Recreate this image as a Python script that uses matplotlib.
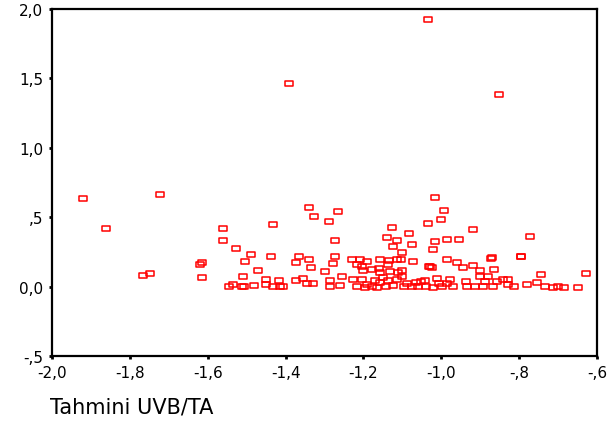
import numpy as np
import matplotlib
matplotlib.use("Agg")
import matplotlib.pyplot as plt
from matplotlib.path import Path

# predicted value (x) vs residual-ish value (y)
x_vals = [
    -1.390, -1.033, -0.852,
    -1.920, -1.723, -1.861, -1.766, -1.748, -1.620, -1.614, -1.615,
    -1.341, -1.265, -1.327, -1.289, -1.432, -1.562, -1.126,
    -1.015, -0.992, -1.002, -1.034, -0.919,
    -1.562, -1.527, -1.489, -1.503, -1.437, -1.470, -1.509, -1.546, -1.536, -1.513,
    -1.507, -1.480, -1.450, -1.450, -1.432, -1.418, -1.414, -1.406, -1.374, -1.365, -1.372,
    -1.274, -1.140, -1.123, -1.115, -1.339, -1.274, -1.279, -1.335, -1.298, -1.256,
    -1.230, -1.210, -1.192, -1.217, -1.204, -1.202, -1.179, -1.159, -1.157, -1.134,
    -1.113, -1.136, -1.132, -1.157, -1.354, -1.346, -1.330, -1.286, -1.286, -1.260,
    -1.226, -1.204, -1.217, -1.192, -1.179, -1.170, -1.157, -1.151, -1.136, -1.123,
    -1.115, -1.142, -1.110, -1.196, -1.166,
    -1.082, -1.074, -1.016, -0.986, -0.954, -1.021, -1.102, -1.072, -1.104, -0.986,
    -0.959, -1.031, -1.025, -0.943, -0.919, -0.900, -0.873, -0.870, -0.865, -1.102,
    -1.102, -0.901, -0.879, -1.012, -0.978, -1.042, -1.065, -1.089, -0.937, -0.888,
    -0.858, -1.096, -1.076, -1.059, -1.038, -1.021, -0.999, -0.986, -0.969, -0.934,
    -0.913, -0.892, -0.868, -1.005, -1.053, -1.028,
    -0.772, -0.796, -0.794, -0.842, -0.829, -0.829, -0.813, -0.781, -0.753, -0.743,
    -0.734, -0.714, -0.700, -0.685, -0.649, -0.628,
]
y_vals = [
    1.464, 1.925, 1.390,
    0.636, 0.670, 0.420, 0.080, 0.095, 0.165, 0.180, 0.070,
    0.574, 0.548, 0.507, 0.474, 0.450, 0.420, 0.426,
    0.645, 0.555, 0.490, 0.457, 0.414,
    0.336, 0.276, 0.236, 0.188, 0.217, 0.121, 0.079, 0.007, 0.021, 0.007,
    0.007, 0.014, 0.055, 0.021, 0.007, 0.045, 0.002, 0.007, 0.176, 0.217, 0.045,
    0.336, 0.360, 0.293, 0.336, 0.198, 0.217, 0.170, 0.138, 0.112, 0.079,
    0.198, 0.202, 0.181, 0.164, 0.145, 0.117, 0.129, 0.136, 0.198, 0.193,
    0.198, 0.164, 0.112, 0.102, 0.064, 0.026, 0.026, 0.045, 0.007, 0.014,
    0.055, 0.055, 0.002, 0.021, 0.002, 0.045, 0.033, 0.069, 0.045, 0.010,
    0.057, 0.002, 0.105, 0.000, 0.000,
    0.383, 0.307, 0.326, 0.343, 0.343, 0.269, 0.252, 0.188, 0.200, 0.202,
    0.179, 0.152, 0.141, 0.141, 0.159, 0.121, 0.207, 0.210, 0.129, 0.117,
    0.074, 0.074, 0.074, 0.064, 0.055, 0.045, 0.033, 0.026, 0.040, 0.040,
    0.040, 0.007, 0.007, 0.002, 0.007, 0.000, 0.002, 0.026, 0.007, 0.007,
    0.007, 0.002, 0.007, 0.026, 0.040, 0.148,
    0.367, 0.217, 0.220, 0.057, 0.057, 0.021, 0.007, 0.021, 0.031, 0.088,
    0.007, 0.000, 0.007, 0.000, 0.000, 0.095,
]

x_ticks = [-2.0, -1.8, -1.6, -1.4, -1.2, -1.0, -0.8, -0.6]
x_tick_labels = ["-2,0", "-1,8", "-1,6", "-1,4", "-1,2", "-1,0", "-,8", "-,6"]
y_ticks = [-0.5, 0.0, 0.5, 1.0, 1.5, 2.0]
y_tick_labels = ["-,5", "0,0", ",5", "1,0", "1,5", "2,0"]
x_title = "Tahmini UVB/TA"

plt.rcParams['font.family'] = ['DejaVu Sans']

# SPSS-style flat rectangle marker
rect = Path([(-1, -0.6), (1, -0.6), (1, 0.6), (-1, 0.6), (-1, -0.6)],
            [Path.MOVETO, Path.LINETO, Path.LINETO, Path.LINETO, Path.CLOSEPOLY])

fig = plt.figure(figsize=(6.13, 4.27), dpi=100)
ax = fig.add_axes([52 / 613, 1 - 357 / 427, (597 - 52) / 613, (357 - 10) / 427])

ax.plot(x_vals, y_vals, linestyle='none', marker=rect, markersize=6,
        markerfacecolor='none', markeredgecolor='#ff0000', markeredgewidth=1.1)

ax.set_xlim(-2.0, -0.6)
ax.set_ylim(-0.5, 2.0)
ax.set_xticks(x_ticks)
ax.set_xticklabels(x_tick_labels)
ax.set_yticks(y_ticks)
ax.set_yticklabels(y_tick_labels)
ax.tick_params(direction='out', length=2.5, width=2, labelsize=11, pad=4, colors='black')

for s in ax.spines.values():
    s.set_linewidth(1.6)
    s.set_color('black')

fig.text(50 / 613, 1 - 408 / 427, x_title, fontsize=15, ha='left', va='center')

fig.savefig("out.png", dpi=100)
